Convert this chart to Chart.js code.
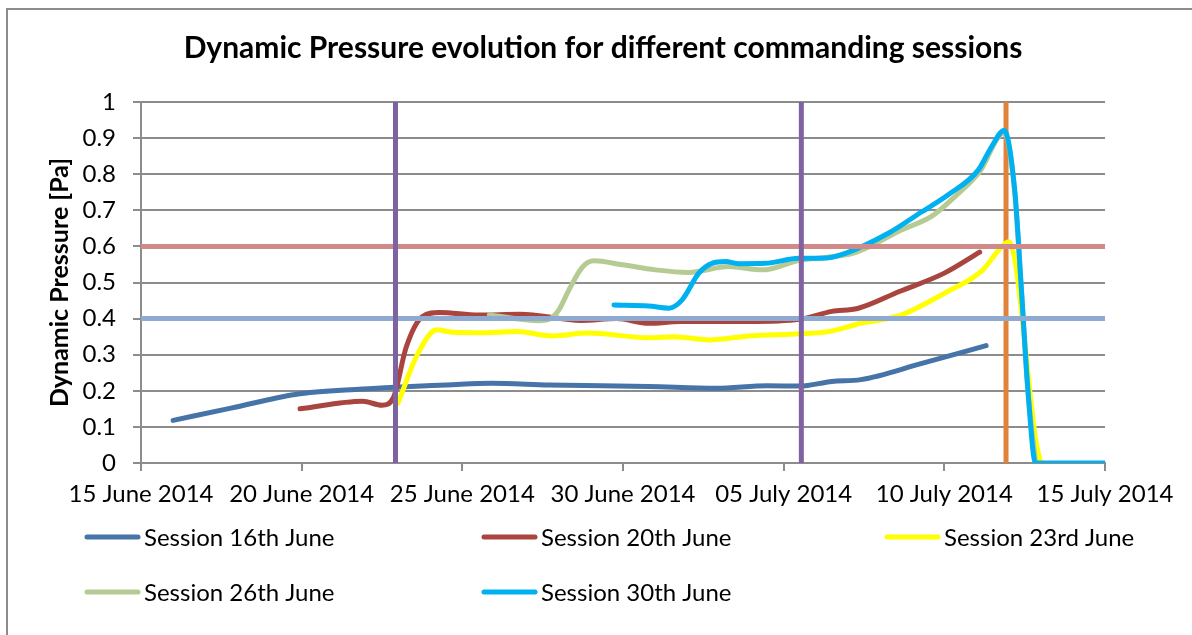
<!DOCTYPE html>
<html>
<head>
<meta charset="utf-8">
<script src="https://cdn.jsdelivr.net/npm/chart.js@4.4.1/dist/chart.umd.min.js"></script>
<style>
  html, body { margin: 0; padding: 0; background: #fff; }
  #wrap { width: 1192px; height: 635px; position: relative; }
</style>
</head>
<body>
<div id="wrap"><canvas id="myChart" width="1192" height="635"></canvas></div>
<script>
// x values are days after 15 June 2014
const tickLabels = ['15 June 2014', '20 June 2014', '25 June 2014', '30 June 2014', '05 July 2014', '10 July 2014', '15 July 2014']
const sessionNames = ['Session 16th June', 'Session 20th June', 'Session 23rd June', 'Session 26th June', 'Session 30th June']
const sessionColors = ['#4673a8', '#a9443f', '#ffff00', '#b5cb93', '#00b0f0']
const chartTitle = 'Dynamic Pressure evolution for different commanding sessions'

const s16Days = [1.0, 2.8, 4.8, 6.9, 7.9, 9.5, 10.9, 12.7, 15.8, 17.9, 19.5, 20.5, 21.5, 22.4, 24.3, 26.3]
const s16Vals = [0.118, 0.152, 0.190, 0.205, 0.210, 0.216, 0.221, 0.216, 0.212, 0.207, 0.214, 0.213, 0.226, 0.231, 0.276, 0.325]

const s20Days = [4.95, 6.9, 7.5, 7.85, 8.25, 8.75, 9.3, 10.5, 11.8, 13.7, 14.8, 15.8, 16.8, 18.9, 20.5, 21.5, 22.3, 23.6, 25.0, 26.1]
const s20Vals = [0.150, 0.171, 0.160, 0.180, 0.320, 0.405, 0.417, 0.410, 0.412, 0.395, 0.400, 0.387, 0.392, 0.392, 0.398, 0.420, 0.428, 0.475, 0.526, 0.584]

const s23Days = [8.0, 8.6, 9.2, 9.7, 10.5, 11.7, 12.8, 13.9, 15.8, 16.6, 17.7, 18.9, 20.5, 21.4, 22.4, 23.6, 25.0, 26.2, 26.65, 27.0, 27.2, 27.4, 27.66, 27.85, 28.0]
const s23Vals = [0.166, 0.300, 0.369, 0.362, 0.361, 0.364, 0.352, 0.360, 0.347, 0.350, 0.341, 0.352, 0.358, 0.364, 0.387, 0.408, 0.470, 0.535, 0.585, 0.613, 0.560, 0.420, 0.200, 0.060, 0]

const s26Days = [10.84, 12.39, 12.7, 13.01, 13.32, 13.74, 14.1, 14.98, 16.01, 17.05, 18.29, 19.33, 20.47, 22.23, 23.68, 24.6, 25.33, 26.1, 26.86, 27.19, 27.4, 27.6, 27.84]
const s26Vals = [0.410, 0.394, 0.398, 0.425, 0.480, 0.543, 0.560, 0.549, 0.535, 0.528, 0.544, 0.535, 0.561, 0.583, 0.646, 0.683, 0.738, 0.807, 0.915, 0.750, 0.475, 0.200, 0]

const s30Days = [14.72, 15.8, 16.43, 16.84, 17.36, 17.77, 18.19, 18.6, 19.43, 20.47, 21.19, 21.92, 23.27, 24.3, 25.12, 26.06, 26.47, 26.86, 27.19, 27.4, 27.6, 27.84, 28.5, 29.2, 30]
const s30Vals = [0.438, 0.435, 0.429, 0.452, 0.526, 0.553, 0.558, 0.552, 0.553, 0.567, 0.567, 0.581, 0.637, 0.696, 0.743, 0.812, 0.876, 0.921, 0.756, 0.480, 0.203, 0, 0, 0, 0]

// reference lines
const limitLevels = [0.6, 0.4]
const limitColors = ['#d08a8a', '#8eaad0']
const purpleDays = [7.92, 20.55]
const orangeDay = 26.92

const FONT = 'Lato, sans-serif'

function pts(days, vals) {
    return days.map((d, i) => ({ x: d, y: vals[i] }))
}

const sessionData = [
    pts(s16Days, s16Vals),
    pts(s20Days, s20Vals),
    pts(s23Days, s23Vals),
    pts(s26Days, s26Vals),
    pts(s30Days, s30Vals)
]
const sessionOrder = [7, 6, 5, 4, 3]

const datasets = sessionData.map((data, i) => ({
    label: sessionNames[i],
    data: data,
    borderColor: sessionColors[i],
    borderWidth: 5,
    pointRadius: 0,
    cubicInterpolationMode: 'monotone',
    borderCapStyle: 'round',
    borderJoinStyle: 'round',
    order: sessionOrder[i]
}))

limitLevels.forEach((lvl, i) => {
    datasets.push({
        label: 'limit ' + lvl,
        data: [{ x: 0, y: lvl }, { x: 30, y: lvl }],
        borderColor: limitColors[i],
        borderWidth: 5,
        pointRadius: 0,
        borderCapStyle: 'round',
        order: 2
    })
})

purpleDays.forEach((d) => {
    datasets.push({
        label: 'cmd ' + d,
        data: [{ x: d, y: 0 }, { x: d, y: 1 }],
        borderColor: '#7f62a1',
        borderWidth: 5,
        pointRadius: 0,
        order: 1
    })
})

datasets.push({
    label: 'end',
    data: [{ x: orangeDay, y: 0 }, { x: orangeDay, y: 1 }],
    borderColor: '#e0823a',
    borderWidth: 5,
    pointRadius: 0,
    order: 8
})

// title + legend in 3 columns like the original sheet
const sheetPlugin = {
    id: 'sheet',
    beforeDraw(chart) {
        const ctx = chart.ctx
        ctx.save()
        ctx.fillStyle = '#fff'
        ctx.fillRect(0, 0, chart.width, chart.height)
        ctx.strokeStyle = '#8c8c8c'
        ctx.lineWidth = 2
        ctx.strokeRect(7, 9, chart.width + 20, chart.height + 20)
        ctx.restore()
    },
    afterDraw(chart) {
        const ctx = chart.ctx
        ctx.save()
        ctx.fillStyle = '#000'
        ctx.textAlign = 'center'
        ctx.textBaseline = 'alphabetic'
        ctx.font = 'bold 30px ' + FONT
        ctx.fillText(chartTitle, 603, 58)

        const colX = [85, 482, 885]
        const rowY = [537, 592]
        ctx.textAlign = 'left'
        ctx.font = '24px ' + FONT
        ctx.textBaseline = 'middle'
        sessionNames.forEach((name, i) => {
            const x = colX[i % 3]
            const y = rowY[Math.floor(i / 3)]
            ctx.strokeStyle = sessionColors[i]
            ctx.lineWidth = 5
            ctx.lineCap = 'round'
            ctx.beginPath()
            ctx.moveTo(x + 2, y)
            ctx.lineTo(x + 53, y)
            ctx.stroke()
            ctx.fillText(name, x + 59, y + 1)
        })
        ctx.restore()
    }
}

var ctx = document.getElementById('myChart').getContext('2d')
var chart = new Chart(ctx, {
    type: 'line',
    data: { datasets: datasets },
    plugins: [sheetPlugin],
    options: {
        responsive: false,
        animation: false,
        layout: { padding: { top: 102, left: 0, right: 87, bottom: 0 } },
        plugins: {
            legend: { display: false },
            tooltip: { enabled: false },
            title: { display: false }
        },
        scales: {
            x: {
                type: 'linear',
                min: 0,
                max: 30,
                afterFit: (s) => { s.height = 172 },
                ticks: {
                    stepSize: 5,
                    autoSkip: false,
                    maxRotation: 0,
                    padding: 9,
                    color: '#000',
                    font: { family: FONT, size: 24 },
                    callback: (v) => tickLabels[Math.round(v / 5)]
                },
                grid: { drawOnChartArea: false, color: '#8c8c8c', lineWidth: 2, tickLength: 8 },
                border: { color: '#8c8c8c', width: 2 }
            },
            y: {
                min: 0,
                max: 1,
                afterFit: (s) => { s.width = 141 },
                ticks: {
                    stepSize: 0.1,
                    padding: 17,
                    color: '#000',
                    font: { family: FONT, size: 24 },
                    callback: (v) => Math.round(v * 10) / 10
                },
                grid: { color: '#8c8c8c', lineWidth: 2, tickLength: 8 },
                border: { color: '#8c8c8c', width: 2 },
                title: {
                    display: true,
                    text: 'Dynamic Pressure [Pa]',
                    color: '#000',
                    font: { family: FONT, size: 25, weight: 'bold' },
                    padding: { top: 45, bottom: 0 }
                }
            }
        }
    }
})
</script>
</body>
</html>
